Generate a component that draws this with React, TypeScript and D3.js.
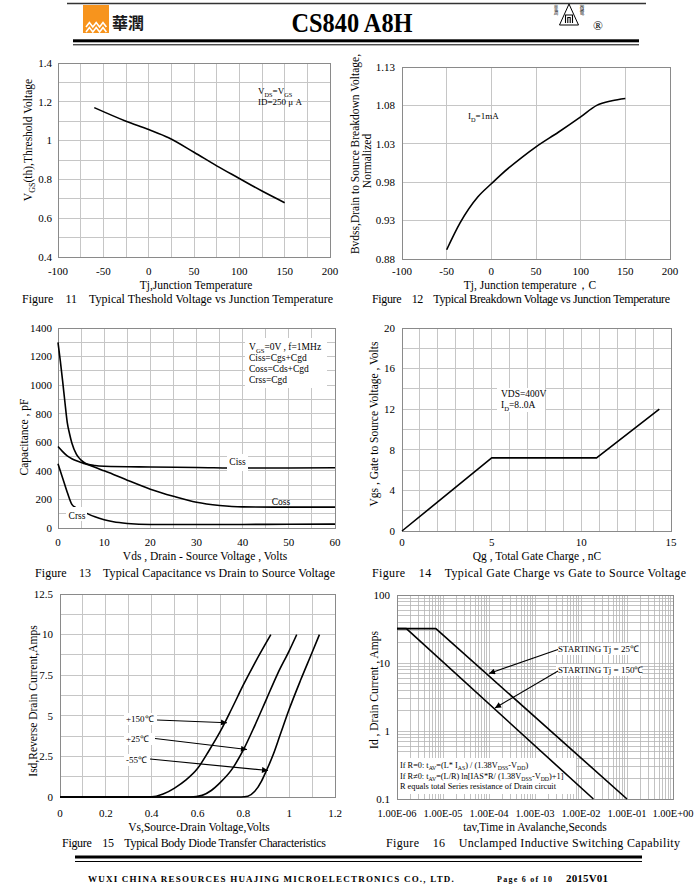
import React from "react";
import * as d3 from "d3";

const FONT = '"Liberation Serif","Times New Roman",serif';

// ---------- Figure 11 ----------
const fig11Tj = [-60, -25, 0, 22, 50, 75, 100, 125, 150];
const fig11Vth = [1.17, 1.1, 1.057, 1.015, 0.94, 0.87, 0.805, 0.74, 0.68];
const fig11XTicks = [-100, -50, 0, 50, 100, 150, 200];
const fig11YTicks = [0.4, 0.6, 0.8, 1, 1.2, 1.4];

// ---------- Figure 12 ----------
const fig12Tj = [-50, -35, -15, 0, 10, 35, 50, 75, 100, 118, 135, 150];
const fig12Bv = [0.892, 0.927, 0.961, 0.978, 0.989, 1.013, 1.026, 1.045, 1.065, 1.08, 1.086, 1.089];
const fig12XTicks = [-100, -50, 0, 50, 100, 150, 200];
const fig12YTicks = [0.88, 0.93, 0.98, 1.03, 1.08, 1.13];

// ---------- Figure 13 ----------
const cissVds = [0, 0.5, 1, 1.5, 2, 2.5, 3, 4, 5, 6, 8, 10, 20, 30, 40, 50, 60];
const cissPf = [1300, 1170, 1030, 880, 740, 660, 595, 515, 475, 452, 437, 432, 427, 424, 420, 420, 422];
const cossVds = [0, 1, 2, 3, 4, 5, 6, 8, 10, 12, 15, 20, 25, 30, 35, 40, 50, 60];
const cossPf = [570, 535, 505, 485, 470, 458, 448, 425, 400, 375, 335, 272, 222, 180, 158, 148, 146, 146];
const crssVds = [0, 1, 2, 3, 4, 5, 6, 8, 10, 12, 15, 20, 30, 40, 50, 60];
const crssPf = [450, 350, 250, 165, 140, 122, 106, 78, 58, 44, 32, 24, 24, 25, 26, 27];
const fig13XTicks = [0, 10, 20, 30, 40, 50, 60];
const fig13YTicks = [0, 200, 400, 600, 800, 1000, 1200, 1400];

// ---------- Figure 14 ----------
const qgNc = [0, 5, 10.85, 14.35];
const vgsV = [0, 7.2, 7.2, 12];
const fig14XTicks = [0, 5, 10, 15];
const fig14YTicks = [0, 4, 8, 12, 16, 20];

// ---------- Figure 15 ----------
const vsd150 = [0, 0.38, 0.42, 0.45, 0.5, 0.55, 0.6, 0.65, 0.7, 0.75, 0.8, 0.85, 0.92];
const isd150 = [0, 0, 0.05, 0.18, 0.55, 1.05, 1.75, 2.85, 4.05, 5.45, 6.9, 8.25, 10];
const vsd25 = [0, 0.57, 0.62, 0.66, 0.7, 0.75, 0.8, 0.85, 0.9, 0.95, 1.0, 1.033];
const isd25 = [0, 0, 0.1, 0.4, 0.9, 1.7, 2.9, 4.4, 6.0, 7.6, 9.0, 10];
const vsd55 = [0, 0.79, 0.82, 0.85, 0.88, 0.9, 0.93, 0.96, 1.0, 1.05, 1.1, 1.132];
const isd55 = [0, 0, 0.05, 0.35, 1.0, 1.6, 2.6, 3.8, 5.4, 7.2, 8.9, 10];
const fig15XTicks = [0, 0.2, 0.4, 0.6, 0.8, 1, 1.2];
const fig15YTicks = [0, 2.5, 5, 7.5, 10, 12.5];

// ---------- Figure 16 ----------
const tav25 = [1e-6, 7e-6, 0.1];
const ias25 = [32, 32, 0.1];
const tav150 = [1e-6, 1.6e-6, 0.0186];
const ias150 = [32, 32, 0.1];
const fig16XTicks = [1e-6, 1e-5, 1e-4, 1e-3, 1e-2, 1e-1, 1];
const fig16YTicks = [0.1, 1, 10, 100];

const GRID = "#c6c6c6";
const FRAME = "#8a8a8a";

type Box = { l: number; r: number; t: number; b: number };

function Grid({ box, x, y, xg, yg, color = GRID, w = 1 }: any) {
  return (
    <g shapeRendering="crispEdges">
      {xg.map((v: number, i: number) => (
        <line key={"x" + i} x1={x(v)} x2={x(v)} y1={box.t} y2={box.b} stroke={color} strokeWidth={w} />
      ))}
      {yg.map((v: number, i: number) => (
        <line key={"y" + i} x1={box.l} x2={box.r} y1={y(v)} y2={y(v)} stroke={color} strokeWidth={w} />
      ))}
      <rect x={box.l} y={box.t} width={box.r - box.l} height={box.b - box.t} fill="none" stroke={FRAME} strokeWidth={1} />
    </g>
  );
}

function XTicks({ vals, x, y, fmt = (v: number) => String(v), size = 11 }: any) {
  return (
    <g fontSize={size} textAnchor="middle">
      {vals.map((v: number, i: number) => (
        <text key={i} x={x(v)} y={y}>{fmt(v)}</text>
      ))}
    </g>
  );
}

function YTicks({ vals, y, x, fmt = (v: number) => String(v), size = 11 }: any) {
  return (
    <g fontSize={size} textAnchor="end">
      {vals.map((v: number, i: number) => (
        <text key={i} x={x} y={y(v)} dy="0.35em">{fmt(v)}</text>
      ))}
    </g>
  );
}

function Rich({ x, y, parts, size = 9, anchor = "start", transform }: any) {
  let shifted = false;
  const out: any[] = [];
  parts.forEach((p: any, i: number) => {
    const [t, sub] = p;
    let dy: number | undefined = undefined;
    if (sub && !shifted) { dy = size * 0.28; shifted = true; }
    else if (!sub && shifted) { dy = -size * 0.28; shifted = false; }
    out.push(
      <tspan key={i} dy={dy} fontSize={sub ? size * 0.7 : size}>{t}</tspan>
    );
  });
  return (
    <text x={x} y={y} fontSize={size} textAnchor={anchor} transform={transform} xmlSpace="preserve">{out}</text>
  );
}

function Caption({ x, y, num, title, len }: any) {
  return (
    <text x={x} y={y} fontSize={12} xmlSpace="preserve" textLength={len} lengthAdjust="spacing">
      {"Figure    " + num + "    " + title}
    </text>
  );
}

function VTitle({ x, y, text, size = 11.5 }: any) {
  return (
    <text transform={`translate(${x},${y}) rotate(-90)`} fontSize={size} textAnchor="middle">{text}</text>
  );
}

function pathOf(xs: number[], ys: number[], sx: any, sy: any, curve: any) {
  const pts = xs.map((v, i) => [v, ys[i]] as [number, number]);
  return d3.line<[number, number]>().x((d) => sx(d[0])).y((d) => sy(d[1])).curve(curve)(pts) || "";
}

const lineStyle = { fill: "none", stroke: "#000", strokeWidth: 1.6, strokeLinejoin: "round" as const };

function Fig11() {
  const box: Box = { l: 58, r: 330, t: 63, b: 257 };
  const x = d3.scaleLinear().domain([-100, 200]).range([box.l, box.r]);
  const y = d3.scaleLinear().domain([0.4, 1.4]).range([box.b, box.t]);
  const xg = d3.range(-100, 201, 25);
  const yg = d3.range(0, 11).map((i) => 0.4 + i * 0.1);
  return (
    <g>
      <Grid box={box} x={x} y={y} xg={xg} yg={yg} />
      <path d={pathOf(fig11Tj, fig11Vth, x, y, d3.curveMonotoneX)} {...lineStyle} />
      <XTicks vals={fig11XTicks} x={x} y={275} />
      <YTicks vals={fig11YTicks} y={y} x={52} />
      <Rich x={258} y={94} size={9} parts={[["V"], ["DS", 1], ["=V"], ["GS", 1]]} />
      <text x={258} y={105} fontSize={9}>ID=250 μ A</text>
      <text x={196} y={289} fontSize={11.5} textAnchor="middle">Tj,Junction Temperature</text>
      <Rich x={32} y={0} size={11.5} anchor="middle" transform="translate(0,172) rotate(-90) translate(0,32)"
        parts={[["V"], ["GS", 1], ["(th),Threshold Voltage"]]} />
      <Caption x={22} y={303} num="11" title="Typical Theshold Voltage vs Junction Temperature" len={311} />
    </g>
  );
}

function Fig12() {
  const box: Box = { l: 402, r: 670, t: 67, b: 259 };
  const x = d3.scaleLinear().domain([-100, 200]).range([box.l, box.r]);
  const y = d3.scaleLinear().domain([0.88, 1.13]).range([box.b, box.t]);
  const xg = d3.range(-100, 201, 50);
  const yg = d3.range(0, 6).map((i) => 0.88 + i * 0.05);
  return (
    <g>
      <Grid box={box} x={x} y={y} xg={xg} yg={yg} />
      <path d={pathOf(fig12Tj, fig12Bv, x, y, d3.curveMonotoneX)} {...lineStyle} />
      <XTicks vals={fig12XTicks} x={x} y={275} />
      <YTicks vals={fig12YTicks} y={y} x={395} fmt={(v: number) => v.toFixed(2)} />
      <Rich x={468} y={119} size={9} parts={[["I"], ["D", 1], ["=1mA"]]} />
      <text x={530} y={289} fontSize={11.5} textAnchor="middle">Tj, Junction temperature，C</text>
      <VTitle x={359} y={154} text="Bvdss,Drain to Source Breakdown Voltage," size={11.5} />
      <VTitle x={371} y={161} text="Normalized" size={11.5} />
      <Caption x={372} y={303} num="12" title="Typical Breakdown Voltage vs Junction Temperature" len={298} />
    </g>
  );
}

function Fig13() {
  const box: Box = { l: 58, r: 335, t: 328, b: 528 };
  const x = d3.scaleLinear().domain([0, 60]).range([box.l, box.r]);
  const y = d3.scaleLinear().domain([0, 1400]).range([box.b, box.t]);
  const xg = d3.range(0, 61, 5);
  const yg = d3.range(0, 1401, 100);
  return (
    <g>
      <Grid box={box} x={x} y={y} xg={xg} yg={yg} />
      <rect x={245} y={338} width={82} height={50} fill="#fff" />
      <path d={pathOf(cissVds, cissPf, x, y, d3.curveMonotoneX)} {...lineStyle} />
      <path d={pathOf(cossVds, cossPf, x, y, d3.curveMonotoneX)} {...lineStyle} />
      <path d={pathOf(crssVds, crssPf, x, y, d3.curveMonotoneX)} {...lineStyle} />
      <rect x={227} y={454} width={21} height={17} fill="#fff" />
      <text x={237.5} y={465} fontSize={9.5} textAnchor="middle">Ciss</text>
      <text x={281} y={505} fontSize={9.5} textAnchor="middle">Coss</text>
      <rect x={66} y={507} width={21} height={14} fill="#fff" />
      <text x={77} y={519} fontSize={9.5} textAnchor="middle">Crss</text>
      <Rich x={249} y={350} size={9.5} parts={[["V"], ["GS", 1], ["=0V , f=1MHz"]]} />
      <text x={249} y={361} fontSize={9.5}>Ciss=Cgs+Cgd</text>
      <text x={249} y={372} fontSize={9.5}>Coss=Cds+Cgd</text>
      <text x={249} y={383} fontSize={9.5}>Crss=Cgd</text>
      <XTicks vals={fig13XTicks} x={x} y={546} />
      <YTicks vals={fig13YTicks} y={y} x={52} />
      <text x={205} y={560} fontSize={11.5} textAnchor="middle">Vds , Drain - Source Voltage , Volts</text>
      <VTitle x={28} y={437} text="Capacitance , pF" />
      <Caption x={35} y={577} num="13" title="Typical Capacitance vs Drain to Source Voltage" len={300} />
    </g>
  );
}

function Fig14() {
  const box: Box = { l: 402, r: 671, t: 328, b: 531 };
  const x = d3.scaleLinear().domain([0, 15]).range([box.l, box.r]);
  const y = d3.scaleLinear().domain([0, 20]).range([box.b, box.t]);
  const xg = d3.range(0, 16, 1);
  const yg = d3.range(0, 21, 2);
  return (
    <g>
      <Grid box={box} x={x} y={y} xg={xg} yg={yg} />
      <rect x={497} y={388} width={48} height={24} fill="#fff" />
      <text x={501} y={397} fontSize={9.5}>VDS=400V</text>
      <Rich x={501} y={408} size={9.5} parts={[["I"], ["D", 1], ["=8..0A"]]} />
      <path d={pathOf(qgNc, vgsV, x, y, d3.curveLinear)} {...lineStyle} />
      <XTicks vals={fig14XTicks} x={x} y={546} />
      <YTicks vals={fig14YTicks} y={y} x={395} />
      <text x={537} y={560} fontSize={11.5} textAnchor="middle">Qg , Total Gate Charge , nC</text>
      <VTitle x={378} y={424} text="Vgs , Gate to Source Voltage , Volts" />
      <Caption x={372} y={577} num="14" title="Typical Gate Charge vs Gate to Source Voltage" len={314} />
    </g>
  );
}

function Fig15() {
  const box: Box = { l: 60, r: 335, t: 594, b: 797 };
  const x = d3.scaleLinear().domain([0, 1.2]).range([box.l, box.r]);
  const y = d3.scaleLinear().domain([0, 12.5]).range([box.b, box.t]);
  const xg = d3.range(0, 13).map((i) => i * 0.1);
  const yg = d3.range(0, 11).map((i) => i * 1.25);
  const labels = [
    { t: "+150℃", tx: 126, ty: 722, x1: 157, y1: 720, x2: 227, y2: 722.7 },
    { t: "+25℃", tx: 126, ty: 742, x1: 155, y1: 738.5, x2: 247, y2: 749.5 },
    { t: "-55℃", tx: 126, ty: 763, x1: 150, y1: 759, x2: 268, y2: 770.5 },
  ];
  return (
    <g>
      <Grid box={box} x={x} y={y} xg={xg} yg={yg} />
      {labels.map((l, i) => (
        <rect key={i} x={l.tx - 2} y={l.ty - 9} width={l.x1 - l.tx + 2} height={12} fill="#fff" />
      ))}
      <path d={pathOf(vsd150, isd150, x, y, d3.curveMonotoneX)} {...lineStyle} />
      <path d={pathOf(vsd25, isd25, x, y, d3.curveMonotoneX)} {...lineStyle} />
      <path d={pathOf(vsd55, isd55, x, y, d3.curveMonotoneX)} {...lineStyle} />
      {labels.map((l, i) => (
        <g key={i}>
          <text x={l.tx} y={l.ty} fontSize={9}>{l.t}</text>
          <line x1={l.x1} y1={l.y1} x2={l.x2} y2={l.y2} stroke="#000" strokeWidth={1.1} markerEnd="url(#ah)" />
        </g>
      ))}
      <XTicks vals={fig15XTicks} x={x} y={817} />
      <YTicks vals={fig15YTicks} y={y} x={53} />
      <text x={199} y={831} fontSize={11.5} textAnchor="middle">Vs,Source-Drain Voltage,Volts</text>
      <VTitle x={37} y={701} text="Isd,Reverse Drain Current,Amps" />
      <Caption x={62} y={847} num="15" title="Typical Body Diode Transfer Characteristics" len={264} />
    </g>
  );
}

function sciFmt(v: number) {
  const e = Math.round(Math.log10(v));
  const sign = e < 0 ? "-" : "+";
  const a = Math.abs(e);
  return "1.00E" + sign + (a < 10 ? "0" + a : String(a));
}

function Fig16() {
  const box: Box = { l: 397, r: 673, t: 595, b: 799 };
  const x = d3.scaleLog().domain([1e-6, 1]).range([box.l, box.r]);
  const y = d3.scaleLog().domain([0.1, 100]).range([box.b, box.t]);
  const xg: number[] = [];
  for (let d = -6; d < 0; d++) for (let m = 1; m <= 9; m++) xg.push(m * Math.pow(10, d));
  xg.push(1);
  const yg: number[] = [];
  for (let d = -1; d < 2; d++) for (let m = 1; m <= 9; m++) yg.push(m * Math.pow(10, d));
  yg.push(100);
  return (
    <g>
      <Grid box={box} x={x} y={y} xg={xg} yg={yg} color="#b4b4b4" w={0.8} />
      <rect x={398} y={758} width={178} height={36} fill="#fff" />
      <rect x={556} y={643} width={82} height={12} fill="#fff" />
      <rect x={556} y={664} width={86} height={12} fill="#fff" />
      <path d={pathOf(tav25, ias25, x, y, d3.curveLinear)} {...lineStyle} />
      <path d={pathOf(tav150, ias150, x, y, d3.curveLinear)} {...lineStyle} />
      <text x={558} y={652} fontSize={9}>STARTING Tj = 25℃</text>
      <text x={558} y={673} fontSize={9}>STARTING Tj = 150℃</text>
      <line x1={558} y1={649.5} x2={489} y2={673.5} stroke="#000" strokeWidth={1.1} markerEnd="url(#ah)" />
      <line x1={558} y1={671} x2={495} y2={708} stroke="#000" strokeWidth={1.1} markerEnd="url(#ah)" />
      <Rich x={400} y={768} size={8.3} parts={[["If R=0: t"], ["AV", 1], ["=(L* I"], ["AS", 1], [") / (1.38V"], ["DSS", 1], ["-V"], ["DD", 1], [")"]]} />
      <Rich x={400} y={778.5} size={8.3} parts={[["If R≠0: t"], ["AV", 1], ["=(L/R) ln[IAS*R/ (1.38V"], ["DSS", 1], ["-V"], ["DD", 1], [")+1]"]]} />
      <text x={400} y={789} fontSize={8.3}>R equals total Series resistance of Drain circuit</text>
      <XTicks vals={fig16XTicks} x={x} y={817} fmt={sciFmt} size={10.5} />
      <YTicks vals={fig16YTicks} y={y} x={390} fmt={(v: number) => String(v)} />
      <text x={535} y={831} fontSize={11.5} textAnchor="middle">tav,Time in Avalanche,Seconds</text>
      <VTitle x={378} y={690} text="Id , Drain Current , Amps" />
      <Caption x={386} y={847} num="16" title="Unclamped Inductive Switching Capability" len={294} />
    </g>
  );
}

function Header() {
  const zig = (yb: number) => {
    const pts: string[] = [];
    for (let i = 0; i <= 6; i++) pts.push(`${86 + i * 3.4},${i % 2 === 0 ? yb : yb - 4.5}`);
    return pts.join(" ");
  };
  return (
    <g>
      <line x1={67} x2={646} y1={3.5} y2={3.5} stroke="#333" strokeWidth={1.6} />
      <rect x={83} y={5} width={26} height={28} fill="#F7941D" />
      <polyline points={zig(27)} fill="none" stroke="#fff" strokeWidth={1.6} />
      <polyline points={zig(32)} fill="none" stroke="#fff" strokeWidth={1.6} />
      <text x={112} y={29} fontFamily='"Noto Sans CJK TC"' fontSize={16} fontWeight={700} fill="#1a1a1a">華潤</text>
      <text x={352} y={32} textAnchor="middle" fontSize={27} fontWeight="bold" textLength={121} lengthAdjust="spacingAndGlyphs">CS840 A8H</text>
      <path d="M569,4 L559.5,25 L578.5,25 Z" fill="none" stroke="#000" strokeWidth={1} />
      <path d="M565.5,23 L565.5,15 L572.5,15 L572.5,23 M567.8,23 L567.8,17.5 L570.2,17.5 L570.2,23" fill="none" stroke="#000" strokeWidth={1.1} />
      <g fontFamily='"Noto Sans CJK TC"' fontSize={4.5} textAnchor="middle">
        <text x={556} y={9}>華</text>
        <text x={556} y={14}>潤</text>
        <text x={582} y={9}>微</text>
        <text x={582} y={14}>電</text>
      </g>
      <text x={598} y={30} fontSize={13} textAnchor="middle">®</text>
      <rect x={73} y={39.3} width={566} height={3} fill="#000" />
      <line x1={73} x2={639} y1={44.8} y2={44.8} stroke="#000" strokeWidth={1} />
    </g>
  );
}

function Footer() {
  return (
    <g fontWeight="bold">
      <rect x={75} y={855.5} width={567} height={3} fill="#000" />
      <line x1={75} x2={642} y1={861.5} y2={861.5} stroke="#000" strokeWidth={1} />
      <text x={88} y={882} fontSize={9} letterSpacing={1.2} textLength={367} lengthAdjust="spacing">WUXI CHINA RESOURCES HUAJING MICROELECTRONICS CO., LTD.</text>
      <text x={497} y={882} fontSize={8} textLength={55}>Page 6 of 10</text>
      <text x={566} y={882} fontSize={11} textLength={42}>2015V01</text>
    </g>
  );
}

export default function App() {
  return (
    <svg width={700} height={886} viewBox="0 0 700 886" fontFamily={FONT}
      style={{ position: "absolute", left: 0, top: 0, display: "block", background: "#fff" }}>
      <defs>
        <marker id="ah" viewBox="0 0 10 10" refX="10" refY="5" markerWidth="9" markerHeight="6"
          markerUnits="userSpaceOnUse" orient="auto">
          <path d="M0,0 L10,5 L0,10 Z" fill="#000" />
        </marker>
      </defs>
      <rect width={700} height={886} fill="#fff" />
      <Header />
      <Fig11 />
      <Fig12 />
      <Fig13 />
      <Fig14 />
      <Fig15 />
      <Fig16 />
      <Footer />
    </svg>
  );
}
